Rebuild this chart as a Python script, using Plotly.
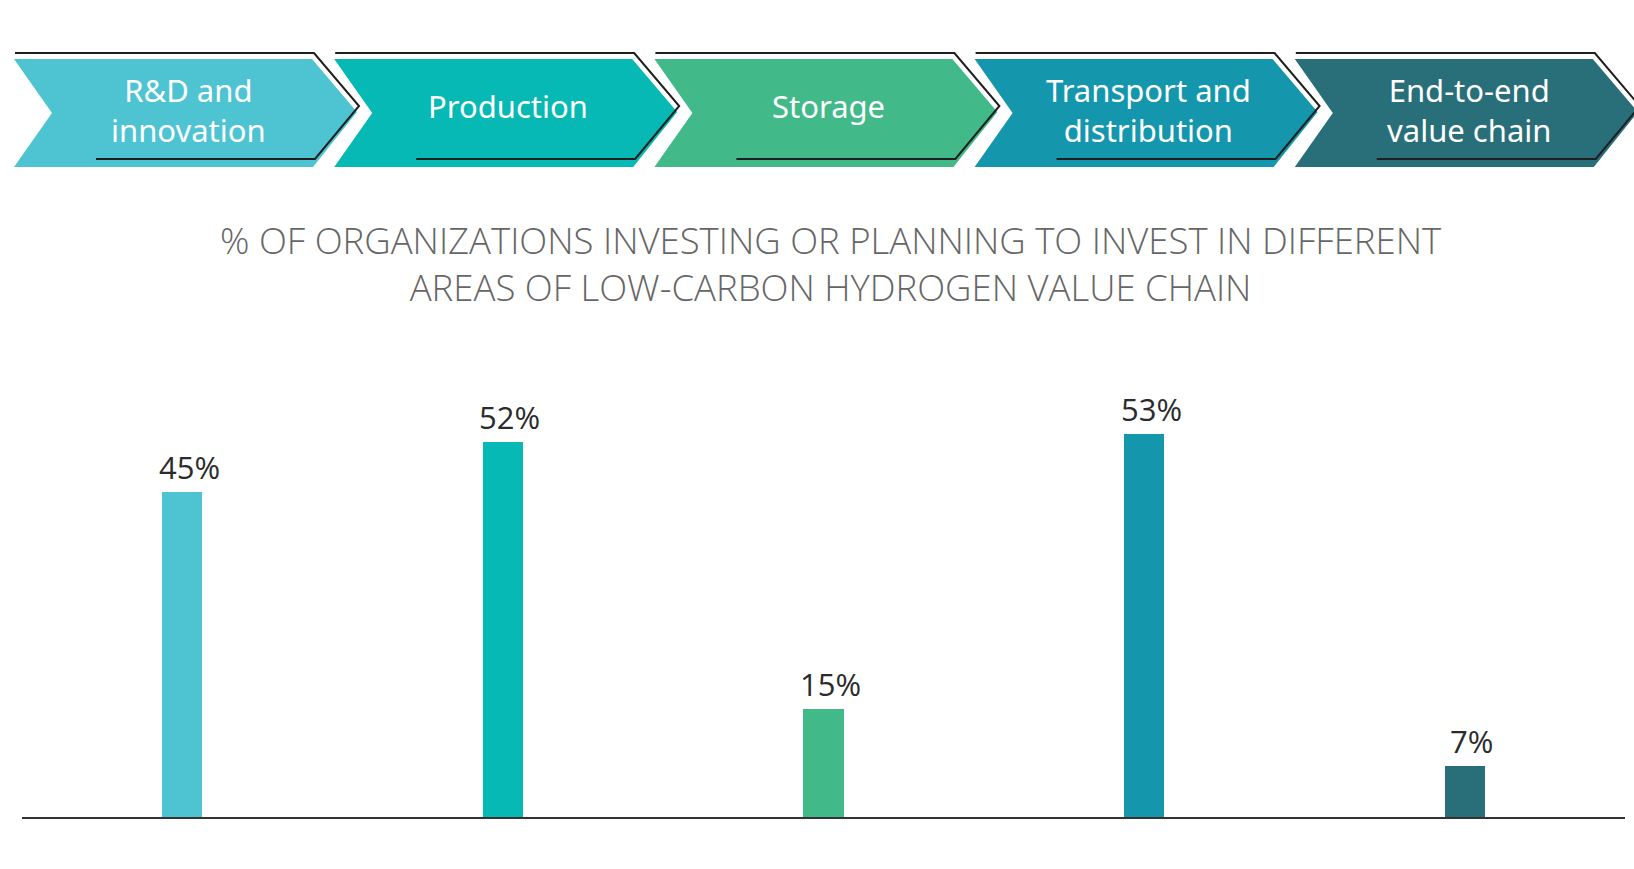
import plotly.graph_objects as go

# ---- data ----
categories = ["R&D and innovation", "Production", "Storage",
              "Transport and distribution", "End-to-end value chain"]
chevron_labels = ["R&D and<br>innovation", "Production", "Storage",
                  "Transport and<br>distribution", "End-to-end<br>value chain"]
values = [45, 52, 15, 53, 7]
value_labels = ["45%", "52%", "15%", "53%", "7%"]
colors = ["#4EC4D3", "#06B9B5", "#42B989", "#1497AD", "#286F79"]
title_text = ("% OF ORGANIZATIONS INVESTING OR PLANNING TO INVEST IN DIFFERENT<br>"
              "AREAS OF LOW-CARBON HYDROGEN VALUE CHAIN")

W, H = 1634, 869
ML, MR, MT, MB = 22, 9, 312, 52
PW = W - ML - MR
PH = H - MT - MB


def px(x):
    return (x - ML) / PW


def py(y):
    return (H - MB - y) / PH


fig = go.Figure()
fig.add_trace(go.Bar(
    x=categories, y=values, marker=dict(color=colors, line=dict(width=0)),
    width=0.125, hoverinfo="skip", showlegend=False,
))

annotations = []
for c, v, lab in zip(categories, values, value_labels):
    annotations.append(dict(
        x=c, y=v, xref="x", yref="y", text=lab, showarrow=False,
        yanchor="bottom", yshift=2, xshift=7,
        font=dict(family="Open Sans", size=31, color="#2b2b2b"),
    ))

annotations.append(dict(
    x=px(830), y=py(264), xref="paper", yref="paper", text=title_text,
    showarrow=False, xanchor="center", yanchor="middle", align="center",
    font=dict(family="Open Sans", size=36.5, color="#666666", weight=300),
))

shapes = []
step = 320.2
for i, (lab, col) in enumerate(zip(chevron_labels, colors)):
    x0 = 14 + step * i
    fill = [(x0, 59), (x0 + 298, 59), (x0 + 343, 112), (x0 + 299, 167),
            (x0, 167), (x0 + 38, 113)]
    path = "M " + " L ".join(f"{px(a):.5f},{py(b):.5f}" for a, b in fill) + " Z"
    shapes.append(dict(type="path", xref="paper", yref="paper", path=path,
                       fillcolor=col, line=dict(width=0), layer="above"))
    outline = [(x0 + 1, 53), (x0 + 300, 53), (x0 + 345, 106), (x0 + 301, 159),
               (x0 + 82, 159)]
    opath = "M " + " L ".join(f"{px(a):.5f},{py(b):.5f}" for a, b in outline)
    shapes.append(dict(type="path", xref="paper", yref="paper", path=opath,
                       line=dict(color="#1f1f1f", width=2), layer="above"))
    two_line = "<br>" in lab
    annotations.append(dict(
        x=px(x0 + 174), y=py(109.5 if two_line else 105.5), xref="paper",
        yref="paper", text=lab,
        showarrow=False, xanchor="center", yanchor="middle", align="center",
        font=dict(family="Noto Sans", size=31, color="#ffffff"),
    ))

fig.update_layout(
    width=W, height=H,
    margin=dict(l=ML, r=MR, t=MT, b=MB, pad=0),
    paper_bgcolor="#ffffff", plot_bgcolor="#ffffff",
    xaxis=dict(showticklabels=False, ticks="", showgrid=False, zeroline=False,
               showline=True, linecolor="#333333", linewidth=2, fixedrange=True),
    yaxis=dict(range=[0, PH / 7.22], showticklabels=False, showgrid=False,
               zeroline=False, showline=False, fixedrange=True),
    bargap=0, annotations=annotations, shapes=shapes, showlegend=False,
)

fig.write_html("out.html", config={"displayModeBar": False})
